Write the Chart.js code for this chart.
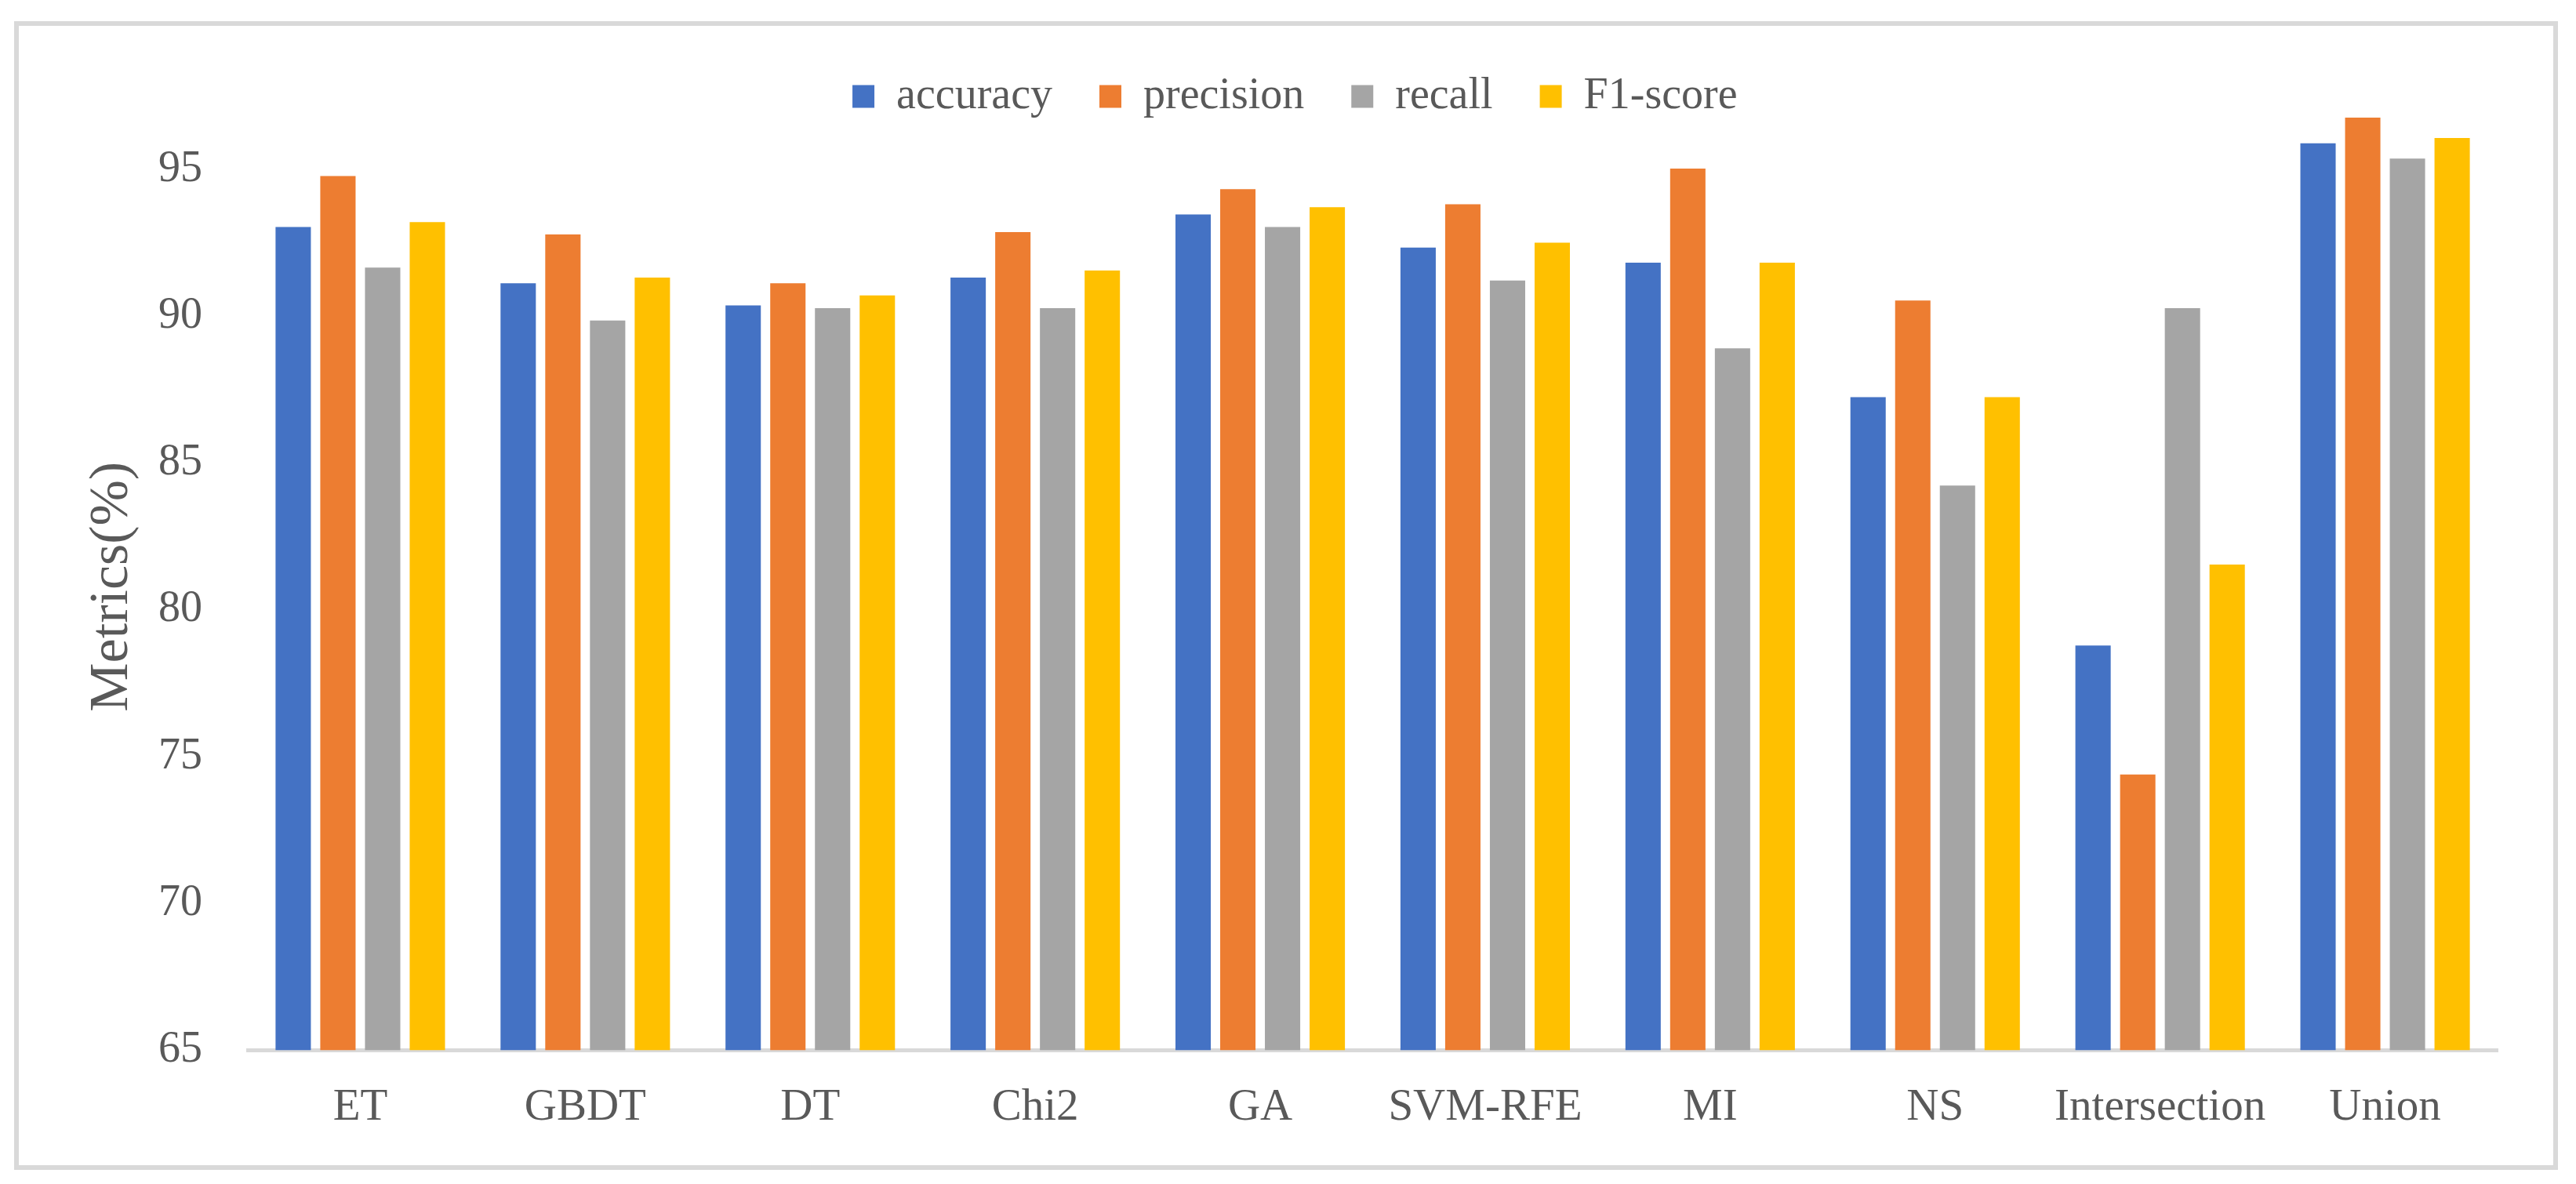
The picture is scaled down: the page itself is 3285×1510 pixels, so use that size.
<!DOCTYPE html>
<html>
<head>
<meta charset="utf-8">
<script src="https://cdn.jsdelivr.net/npm/chart.js@4.4.1/dist/chart.umd.min.js"></script>
<style>
  html, body { margin: 0; padding: 0; background: #fff; }
  #frame {
    position: absolute; left: 18px; top: 27px;
    width: 3244px; height: 1465px;
    box-sizing: border-box; border: 6px solid #d9d9d9;
  }
  #chart { position: absolute; left: 0; top: 0; }
</style>
</head>
<body>
<div id="frame"></div>
<canvas id="chart" width="3285" height="1510"></canvas>
<script>
const categories = ['ET', 'GBDT', 'DT', 'Chi2', 'GA', 'SVM-RFE', 'MI', 'NS', 'Intersection', 'Union'];
const accuracy  = [93.03, 91.12, 90.36, 91.31, 93.46, 92.33, 91.82, 87.24, 78.78, 95.88];
const precision = [94.77, 92.78, 91.12, 92.86, 94.32, 93.81, 95.02, 90.53, 74.39, 96.76];
const recall    = [91.65, 89.85, 90.27, 90.27, 93.03, 91.21, 88.90, 84.23, 90.27, 95.36];
const f1score   = [93.20, 91.31, 90.70, 91.55, 93.71, 92.50, 91.82, 87.24, 81.54, 96.06];
const yTicks    = [65, 70, 75, 80, 85, 90, 95];

const serif = '"Times New Roman", "Liberation Serif", serif';
const textColor = '#595959';

function series(label, data, color) {
  return {
    label: label,
    data: data,
    backgroundColor: color,
    borderWidth: 0,
    base: 65,
    clip: {left: 0, right: 0, bottom: 0, top: false},
    categoryPercentage: 0.795,
    barPercentage: 0.79
  };
}

document.addEventListener('DOMContentLoaded', () => {
  new Chart(document.getElementById('chart'), {
    type: 'bar',
    data: {
      labels: categories,
      datasets: [
        series('accuracy', accuracy, '#4472C4'),
        series('precision', precision, '#ED7D31'),
        series('recall', recall, '#A5A5A5'),
        series('F1-score', f1score, '#FFC000')
      ]
    },
    options: {
      responsive: false,
      animation: false,
      devicePixelRatio: 1,
      layout: {padding: {left: 117.6, right: 100, top: 35, bottom: 0}},
      plugins: {
        tooltip: {enabled: false},
        legend: {
          position: 'top',
          align: 'center',
          maxHeight: 122,
          labels: {
            color: textColor,
            font: {family: serif, size: 56},
            boxWidth: 28,
            boxHeight: 29,
            padding: 60
          }
        }
      },
      scales: {
        x: {
          grid: {display: false, drawTicks: false},
          border: {display: true, color: '#d9d9d9', width: 5},
          ticks: {color: textColor, font: {family: serif, size: 57}, padding: 39, maxRotation: 0, autoSkip: false},
          afterFit: s => { s.height = 170.5; }
        },
        y: {
          min: 65,
          max: 96.57,
          grid: {display: false, drawTicks: false},
          border: {display: false},
          ticks: {color: textColor, font: {family: serif, size: 56}, padding: 58},
          afterBuildTicks: s => { s.ticks = yTicks.map(v => ({value: v})); },
          title: {
            display: true,
            text: 'Metrics(%)',
            color: textColor,
            font: {family: serif, size: 70, lineHeight: 0.74},
            padding: 0
          },
          afterFit: s => { s.width = 198.4; }
        }
      }
    }
  });
});
</script>
</body>
</html>
